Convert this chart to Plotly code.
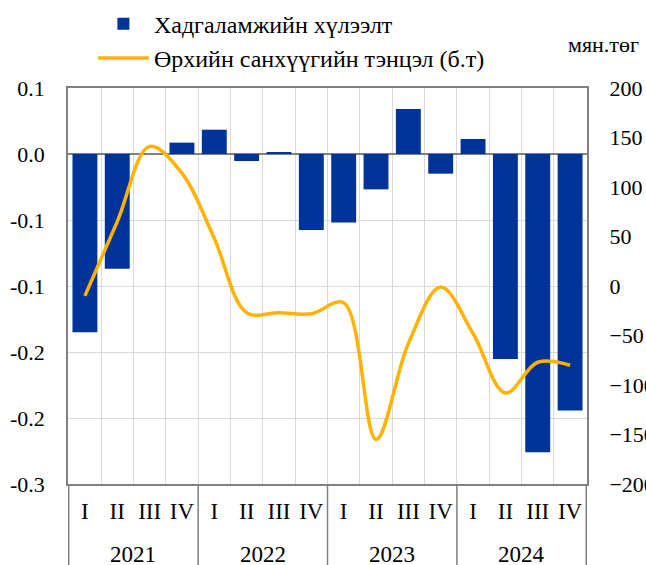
import plotly.graph_objects as go

years = ["2021", "2022", "2023", "2024"]
quarters = ["I", "II", "III", "IV"]
categories = [f"{y}-{q}" for y in years for q in quarters]
quarter_labels = quarters * len(years)

savings_expectation = [-0.135, -0.087, 0.0, 0.0086,
                       0.0184, -0.0053, 0.0015, -0.0576,
                       -0.0518, -0.0268, 0.0341, -0.0149,
                       0.0114, -0.1553, -0.226, -0.1944]
household_balance = [-10, 65, 141, 114,
                     48, -27, -27, -28,
                     -17, -155, -58, -1,
                     -48, -108, -77, -80]

left_tickvals = [0.05, 0.0, -0.05, -0.1, -0.15, -0.2, -0.25]
left_ticktext = ["0.1", "0.0", "-0.1", "-0.1", "-0.2", "-0.2", "-0.3"]
right_tickvals = [200, 150, 100, 50, 0, -50, -100, -150, -200]

FONT = "Liberation Serif"
GRID = "#d9d9d9"
AXIS = "#808080"
CLEAR = "rgba(0,0,0,0)"

def f(size):
    return dict(family=FONT, size=size, color="black")

fig = go.Figure()
fig.add_trace(go.Bar(
    x=categories, y=savings_expectation,
    name="Хадгаламжийн хүлээлт",
    marker=dict(color="#003399", line=dict(width=0)),
    legendgroup="a",
))
fig.add_trace(go.Scatter(
    x=categories, y=household_balance, yaxis="y2",
    name="Өрхийн санхүүгийн тэнцэл (б.т)",
    mode="lines", line=dict(color="#FFB300", width=3.5, shape="spline", smoothing=1),
    legendgroup="b",
))

n = len(quarters)
annotations = []
shapes = []
for i, y in enumerate(years):
    annotations.append(dict(text=y, xref="x", yref="paper", x=i * n + (n - 1) / 2,
                            y=-0.179, xanchor="center", yanchor="middle",
                            showarrow=False, font=f(23)))
for b in range(len(years) + 1):
    shapes.append(dict(type="line", xref="x", yref="paper",
                       x0=b * n - 0.5, x1=b * n - 0.5, y0=0, y1=-0.23,
                       line=dict(color=AXIS, width=1.5)))
annotations.append(dict(text="мян.төг", xref="paper", yref="paper", x=0.96, y=1.11,
                        xanchor="left", yanchor="middle", showarrow=False,
                        font=f(22)))

fig.update_layout(
    width=646, height=565,
    margin=dict(l=68, r=59, t=88, b=81, autoexpand=False),
    paper_bgcolor="white", plot_bgcolor="white",
    font=f(22),
    bargap=0.23,
    showlegend=True,
    legend=dict(x=0.048, y=1.218, xanchor="left", yanchor="top",
                traceorder="grouped", tracegroupgap=0, itemwidth=51,
                font=f(24), bgcolor=CLEAR),
    xaxis=dict(type="category", tickvals=categories, ticktext=quarter_labels,
               tickson="boundaries", showgrid=True, gridcolor=GRID, gridwidth=1,
               showline=True, mirror=True, linecolor=AXIS, linewidth=1.5,
               ticks="", ticklabelstandoff=6, tickangle=0,
               tickfont=f(23), automargin=False),
    yaxis=dict(range=[-0.25, 0.05], tickvals=left_tickvals, ticktext=left_ticktext,
               showgrid=True, gridcolor=GRID, gridwidth=1,
               zeroline=True, zerolinecolor=AXIS, zerolinewidth=1.5,
               showline=True, mirror=True, linecolor=AXIS, linewidth=1.5,
               ticks="outside", ticklen=17, tickcolor=CLEAR,
               tickfont=f(22), automargin=False),
    yaxis2=dict(range=[-200, 200], tickvals=right_tickvals, overlaying="y", side="right",
                showgrid=False, zeroline=False, showline=False,
                ticks="outside", ticklen=17, tickcolor=CLEAR,
                tickfont=f(22), automargin=False),
    annotations=annotations,
    shapes=shapes,
)

fig.write_html("out.html", config={"displayModeBar": False},
               post_script="document.body.style.margin='0';")
